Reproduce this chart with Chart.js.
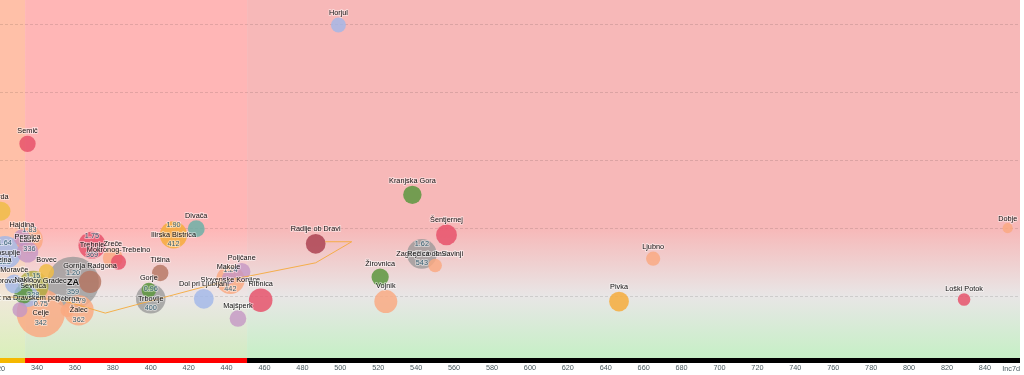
<!DOCTYPE html>
<html>
<head>
<meta charset="utf-8">
<script src="https://cdn.jsdelivr.net/npm/chart.js@4.4.1/dist/chart.umd.min.js"></script>
<style>
  html, body { margin: 0; padding: 0; background: #fff; }
  #wrap { width: 1024px; height: 375px; position: relative; }
</style>
</head>
<body>
<div id="wrap"><canvas id="chart"></canvas></div>
<script>
// municipalities: name, 7-day incidence (x), ratio (y), population, region
const names = ['ZA', 'Celje', 'Grosuplje', 'Sevnica', 'Žalec', 'Zagorje ob Savi', 'Trbovlje', 'Slovenske Konjice',
  'Ilirska Bistrica', 'Trebnje', 'Laško', 'Ribnica', 'Vojnik', 'Gornja Radgona', 'Dobrova-Polhov Gradec', 'Pesnica',
  'Šentjernej', 'Zreče', 'Dol pri Ljubljani', 'Radlje ob Dravi', 'Pivka', 'Brda', 'Naklo', 'Moravče', 'Kranjska Gora',
  'Poljčane', 'Hrpelje-Kozina', 'Žirovnica', 'Divača', 'Majšperk', 'Tišina', 'Hajdina', 'Semič', 'Miklavž na Dravskem polju',
  'Mokronog-Trebelno', 'Bovec', 'Horjul', 'Gorje', 'Ljubno', 'Rečica ob Savinji', 'Dobrna', 'Makole', 'Loški Potok', 'Dobje'];
const inc7d = [359, 342, 323, 338, 362, 543, 400, 442,
  412, 369, 336, 458, 524, 368, 335, 335,
  556, 380, 428, 487, 647, 321, 333, 328, 538,
  448, 314, 521, 424, 446, 405, 332, 335, 331,
  383, 345, 499, 399, 665, 550, 356, 441, 829, 852];
const ratio = [1.20, 0.75, 1.64, 1.15, 0.79, 1.62, 0.96, 1.24,
  1.90, 1.75, 1.83, 0.94, 0.92, 1.21, 1.00, 1.65,
  1.90, 1.56, 0.96, 1.77, 0.92, 2.25, 1.03, 1.18, 2.49,
  1.36, 1.33, 1.28, 1.99, 0.67, 1.34, 1.86, 3.24, 0.80,
  1.50, 1.36, 4.99, 1.09, 1.55, 1.45, 0.79, 1.27, 0.95, 2.00];
const population = [57000, 49000, 21000, 17500, 17000, 16500, 16300, 15000,
  13400, 13200, 13000, 9500, 9000, 8400, 7800, 7500,
  7100, 6400, 6300, 6200, 6200, 5600, 5400, 5300, 5200,
  4500, 4500, 4400, 4200, 4000, 3900, 3900, 3800, 3000,
  3100, 3100, 3000, 2800, 2600, 2300, 2200, 2000, 1850, 950];
const region = ['zas', 'sav', 'osr', 'posav', 'sav', 'zas', 'zas', 'sav',
  'pn', 'jvs', 'sav', 'jvs', 'sav', 'pom', 'osr', 'podr',
  'jvs', 'sav', 'osr', 'kor', 'pn', 'gori', 'gorenj', 'osr', 'gorenj',
  'podr', 'ok', 'gorenj', 'ok', 'podr', 'pom', 'podr', 'jvs', 'podr',
  'jvs', 'gori', 'osr', 'gorenj', 'sav', 'sav', 'sav', 'podr', 'jvs', 'sav'];

// history trail of the selected region
const trailX = [322, 352, 376, 392, 442, 487, 506, 492];
const trailY = [0.99, 0.95, 0.75, 0.87, 1.24, 1.49, 1.80, 1.80];

const xTicks = [340, 360, 380, 400, 420, 440, 460, 480, 500, 520, 540, 560, 580, 600, 620,
  640, 660, 680, 700, 720, 740, 760, 780, 800, 820, 840];
const yTicks = [1, 2, 3, 4, 5];
const limitLow = 333.7;
const limitHigh = 450.8;
const bigPop = 10000;

const regionColors = {
  osr: 'rgba(160,182,232,0.8)',
  jvs: 'rgba(230,78,104,0.82)',
  gorenj: 'rgba(92,150,62,0.85)',
  sav: 'rgba(250,168,128,0.82)',
  zas: 'rgba(150,150,150,0.75)',
  pom: 'rgba(180,115,95,0.8)',
  podr: 'rgba(196,150,196,0.8)',
  kor: 'rgba(170,62,78,0.82)',
  gori: 'rgba(240,188,70,0.85)',
  pn: 'rgba(246,172,60,0.85)',
  ok: 'rgba(104,176,166,0.82)',
  posav: 'rgba(170,168,60,0.8)'
};

const bubbles = names.map((n, i) => ({
  x: inc7d[i], y: ratio[i], r: 2 + 0.1 * Math.sqrt(population[i]),
  name: n, pop: population[i], region: region[i]
}));
const trail = trailX.map((x, i) => ({ x: x, y: trailY[i] }));

const labelFont = '"Liberation Sans", Arial, sans-serif';

const backgroundPlugin = {
  id: 'zones',
  beforeDraw(chart) {
    const { ctx, chartArea: a, scales: { x, y } } = chart;
    const x1 = x.getPixelForValue(limitLow);
    const x2 = x.getPixelForValue(limitHigh);
    const bands = [
      [a.left, x1, ['#ffc0a8', '#f0e8da', '#d8f0b8']],
      [x1, x2, ['#ffb6b6', '#ece6e6', '#d0ecc0']],
      [x2, a.right, ['#f7b8b8', '#e8e6e6', '#c4f0c4']]
    ];
    const h = a.bottom - a.top;
    const s2 = (y.getPixelForValue(2) - a.top) / h;
    const s1 = (y.getPixelForValue(1) - a.top) / h;
    ctx.save();
    bands.forEach(([l, r, c]) => {
      const g = ctx.createLinearGradient(0, a.top, 0, a.bottom);
      g.addColorStop(0, c[0]);
      g.addColorStop(s2, c[0]);
      g.addColorStop(s1, c[1]);
      g.addColorStop(1, c[2]);
      ctx.fillStyle = g;
      ctx.fillRect(l, a.top, r - l, h);
    });
    ctx.restore();
  },
  afterDraw(chart) {
    const { ctx, chartArea: a, scales: { x } } = chart;
    const x1 = x.getPixelForValue(limitLow);
    const x2 = x.getPixelForValue(limitHigh);
    ctx.save();
    ctx.fillStyle = '#f5b800';
    ctx.fillRect(a.left, a.bottom - 3, x1 - a.left, 5);
    ctx.fillStyle = '#ff0000';
    ctx.fillRect(x1, a.bottom - 3, x2 - x1, 5);
    ctx.fillStyle = '#000';
    ctx.fillRect(x2, a.bottom - 3, a.right - x2, 5);
    ctx.fillStyle = '#4a5a60';
    ctx.font = '7.3px ' + labelFont;
    ctx.textBaseline = 'middle';
    ctx.textAlign = 'center';
    ctx.fillText('320', x.getPixelForValue(320), a.bottom + 7.5);
    ctx.textAlign = 'right';
    ctx.fillText('Inc7d', a.right, a.bottom + 7.5);
    ctx.restore();
  }
};

function haloText(ctx, text, x, y, color) {
  ctx.lineWidth = 2;
  ctx.lineJoin = 'round';
  ctx.strokeStyle = 'rgba(255,255,255,0.45)';
  ctx.strokeText(text, x, y);
  ctx.fillStyle = color;
  ctx.fillText(text, x, y);
}

const labelPlugin = {
  id: 'bubbleLabels',
  afterDatasetsDraw(chart) {
    const meta = chart.getDatasetMeta(1);
    const ctx = chart.ctx;
    ctx.save();
    ctx.textAlign = 'center';
    ctx.textBaseline = 'middle';
    meta.data.forEach((pt, i) => {
      const d = bubbles[i];
      const r = pt.options.radius;
      if (d.pop >= bigPop) {
        ctx.font = '7.3px ' + labelFont;
        haloText(ctx, d.y.toFixed(2), pt.x, pt.y - 9.5, 'rgba(40,85,105,0.9)');
        haloText(ctx, String(Math.round(d.x)), pt.x, pt.y + 9.5, 'rgba(40,85,105,0.9)');
        ctx.font = (d.name.length <= 3 ? 'bold 9px ' : '7.3px ') + labelFont;
        haloText(ctx, d.name, pt.x, pt.y, '#111');
      } else {
        ctx.font = '7.3px ' + labelFont;
        haloText(ctx, d.name, pt.x, pt.y - r - 4.5, '#111');
      }
    });
    ctx.restore();
  }
};

new Chart(document.getElementById('chart'), {
  type: 'bubble',
  data: {
    datasets: [{
      type: 'line',
      label: 'trail',
      data: trail,
      borderColor: 'rgba(245,170,60,0.9)',
      borderWidth: 1,
      pointRadius: 0,
      fill: false,
      order: 0
    }, {
      label: 'Občine',
      data: bubbles,
      backgroundColor: bubbles.map(b => regionColors[b.region]),
      borderWidth: 0,
      order: 1
    }]
  },
  options: {
    responsive: true,
    maintainAspectRatio: false,
    animation: false,
    layout: { autoPadding: false, padding: { left: 0, right: 4, top: 0, bottom: 0 } },
    plugins: { legend: { display: false }, tooltip: { enabled: false } },
    scales: {
      x: {
        type: 'linear',
        min: 320.49,
        max: 858.5,
        afterBuildTicks: s => { s.ticks = xTicks.map(v => ({ value: v })); },
        afterFit: s => { s.height = 14; },
        grid: { display: false, drawTicks: false },
        border: { display: false },
        ticks: { color: '#4a5a60', padding: 3, maxRotation: 0, autoSkip: false, font: { size: 7.3, family: labelFont } }
      },
      y: {
        type: 'linear',
        min: 0.045,
        max: 5.357,
        afterBuildTicks: s => { s.ticks = yTicks.map(v => ({ value: v })); },
        grid: { color: 'rgba(0,0,0,0.11)', drawTicks: false },
        border: { display: false, dash: [3, 2] },
        ticks: { display: false }
      }
    }
  },
  plugins: [backgroundPlugin, labelPlugin]
});
</script>
</body>
</html>
